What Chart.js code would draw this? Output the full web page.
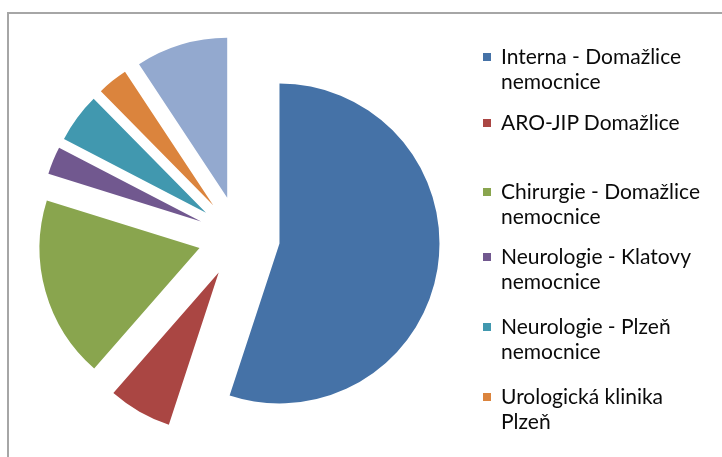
<!DOCTYPE html>
<html>
<head>
<meta charset="utf-8">
<script src="https://cdn.jsdelivr.net/npm/chart.js@4/dist/chart.umd.min.js"></script>
<style>
  html, body { margin: 0; padding: 0; background: #fff; }
  body { width: 722px; height: 457px; position: relative; overflow: hidden; }
  #frame {
    position: absolute; left: 7px; top: 12px; width: 800px; height: 500px;
    border-top: 2px solid #a6a6a6; border-left: 2px solid #a6a6a6;
  }
  #pie { position: absolute; left: 0; top: 0; }
  .item { position: absolute; left: 483px; font-family: Lato, "Open Sans", sans-serif; font-size: 21px; line-height: 24.5px; color: #0a0a0a; }
  .item .box { position: absolute; left: 0; top: 9px; width: 8px; height: 8px; }
  .item .txt { position: absolute; left: 18px; top: 0; white-space: nowrap; }
</style>
</head>
<body>
<div id="frame"></div>
<canvas id="pie" width="722" height="457"></canvas>
<div id="legend"></div>
<script>
// oddeleni (slices, clockwise from 12 o'clock)
var labels = ['Interna - Domažlice nemocnice', 'ARO-JIP Domažlice', 'Chirurgie - Domažlice nemocnice',
              'Neurologie - Klatovy nemocnice', 'Neurologie - Plzeň nemocnice', 'Urologická klinika Plzeň', 'Ostatní'];
// legend lines as they wrap in the original
var legendLines = [['Interna - Domažlice', 'nemocnice'], ['ARO-JIP Domažlice'], ['Chirurgie - Domažlice', 'nemocnice'],
                   ['Neurologie - Klatovy', 'nemocnice'], ['Neurologie - Plzeň', 'nemocnice'], ['Urologická klinika', 'Plzeň']];
var values = [55.1, 6.4, 18.4, 2.8, 5.0, 3.1, 9.3];
var colors = ['#4572A7', '#AA4643', '#89A54E', '#71588F', '#4198AF', '#DB843D', '#93A9CF'];
var legendTops = [44, 110, 179, 244, 314, 384];

var pieRadius = 160;
var explode = 41; // px every slice is pulled out from the centre

// built-in offset also shrinks and grows arcs, so move each arc's centre
// along its mid angle instead (Excel style explode)
var explodeSlices = {
    id: 'explodeSlices',
    afterDatasetsUpdate: function(chart) {
        var meta = chart.getDatasetMeta(0);
        meta.data.forEach(function(arc) {
            var mid = (arc.startAngle + arc.endAngle) / 2;
            arc.x = arc.x + Math.cos(mid) * explode;
            arc.y = arc.y + Math.sin(mid) * explode;
        });
    }
};

var ctx = document.getElementById('pie').getContext('2d');
var pieChart = new Chart(ctx, {
    type: 'pie',
    data: {
        labels: labels,
        datasets: [{
            data: values,
            backgroundColor: colors,
            borderWidth: 0,
            clip: false
        }]
    },
    options: {
        responsive: false,
        animation: false,
        radius: pieRadius,
        layout: { padding: { left: 0, right: 244, top: 17, bottom: 0 } },
        plugins: {
            legend: { display: false },
            tooltip: { enabled: false }
        }
    },
    plugins: [explodeSlices]
});

// legend (only first six entries fit in the original)
var legendDiv = document.getElementById('legend');
for (var i = 0; i < legendLines.length; i++) {
    var item = document.createElement('div');
    item.className = 'item';
    item.style.top = legendTops[i] + 'px';
    var box = document.createElement('div');
    box.className = 'box';
    box.style.background = colors[i];
    var txt = document.createElement('div');
    txt.className = 'txt';
    txt.innerHTML = legendLines[i].join('<br>');
    item.appendChild(box);
    item.appendChild(txt);
    legendDiv.appendChild(item);
}
</script>
</body>
</html>
